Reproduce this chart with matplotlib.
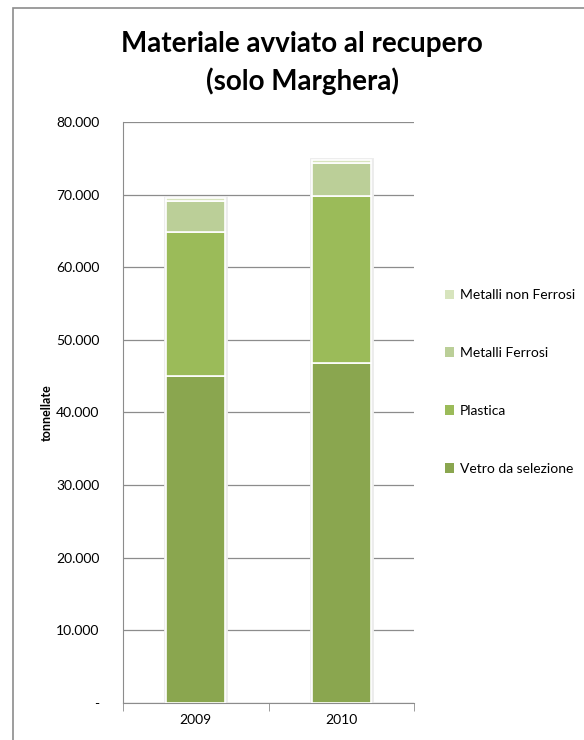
import matplotlib
matplotlib.use("Agg")
from matplotlib import pyplot as plt
from matplotlib.patches import Rectangle, Patch
from matplotlib.ticker import FuncFormatter
import numpy as np

plt.rcParams['font.family'] = ['Lato', 'DejaVu Sans']

anni = ['2009', '2010']
categorie = ['Vetro da selezione', 'Plastica', 'Metalli Ferrosi', 'Metalli non Ferrosi']
vetro = [45000, 46800]
plastica = [19800, 23000]
metalli_ferrosi = [4300, 4500]
metalli_non_ferrosi = [400, 500]
serie = [vetro, plastica, metalli_ferrosi, metalli_non_ferrosi]
colori = ['#8AA64F', '#9BBB59', '#BBCF98', '#D7E4BD']

fig = plt.figure(figsize=(5.84, 7.4), dpi=100)
# chart frame
fig.patches.append(Rectangle((13/584, -0.1), 1.0, 1.0 - 8/740 + 0.1,
                             transform=fig.transFigure, fill=False,
                             edgecolor='#8c8c8c', linewidth=1.2))

ax = fig.add_axes([123/584, 37/740, 291/584, 581/740])
x = np.arange(len(anni))
bottom = np.zeros(len(anni))
for vals, col in zip(serie, colori):
    # soft shadow
    ax.bar(x, vals, 0.405, bottom=bottom, color='none', edgecolor='#ececec',
           linewidth=3.5, zorder=2)
    ax.bar(x, vals, 0.405, bottom=bottom, color=col, edgecolor='white',
           linewidth=1.2, zorder=3)
    bottom += np.array(vals)

ax.set_xlim(-0.5, 1.5)
ax.set_ylim(0, 80000)
ax.set_yticks(np.arange(0, 80001, 10000))
ax.yaxis.set_major_formatter(FuncFormatter(
    lambda v, p: '-' if v == 0 else f'{int(v):,}'.replace(',', '.')))
ax.set_xticks(x)
ax.set_xticklabels(anni)
ax.grid(axis='y', color='#8c8c8c', linewidth=0.9, zorder=0)
ax.set_axisbelow(True)
for s in ['top', 'right']:
    ax.spines[s].set_visible(False)
ax.spines['left'].set_color('#8c8c8c')
ax.spines['bottom'].set_color('#8c8c8c')
ax.tick_params(axis='y', length=0, labelsize=10, pad=17)
ax.set_xticks([-0.5, 0.5, 1.5], minor=True)
ax.tick_params(axis='x', which='minor', length=6, direction='out', color='#8c8c8c')
ax.tick_params(axis='x', which='major', length=0, labelsize=10, pad=8)
ax.set_ylabel('tonnellate', fontsize=9, fontweight='bold', labelpad=2)

fig.suptitle('Materiale avviato al recupero\n(solo Marghera)', x=302/584, y=0.958,
             fontsize=20, fontweight='bold', linespacing=1.45)

handles = [Patch(facecolor=c, edgecolor='none') for c in colori][::-1]
fig.legend(handles, categorie[::-1], loc='center left',
           bbox_to_anchor=(432/584, 1 - 382/740), frameon=False,
           fontsize=10, handlelength=0.7, handleheight=0.7, handletextpad=0.4,
           labelspacing=3.3)

fig.savefig('out.png', dpi=100)
